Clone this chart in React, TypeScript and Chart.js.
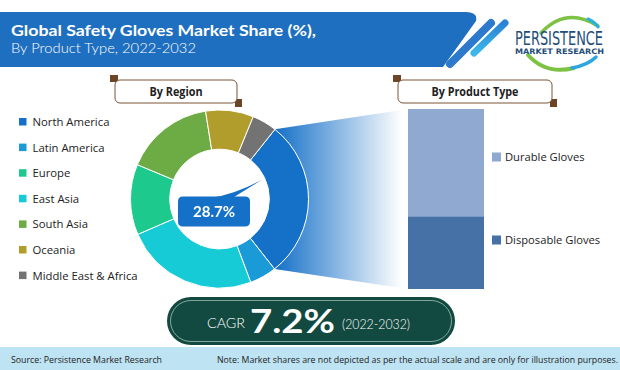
import React, { useEffect, useRef } from "react";
import { Chart, registerables } from "chart.js";

Chart.register(...registerables);

// ---------- data ----------
const titleLine1 = "Global Safety Gloves Market Share (%),";
const titleLine2 = "By Product Type, 2022-2032";
const regions = [
  "North America",
  "Latin America",
  "Europe",
  "East Asia",
  "South Asia",
  "Oceania",
  "Middle East & Africa",
];
const regionShares = [28.7, 4.9, 12.8, 24.2, 16.2, 8.7, 4.5];
const regionColors = ["#1570C8", "#1B9AD8", "#1DC98C", "#16CBD6", "#6DAC45", "#B19D2C", "#737373"];
// clockwise order of the slices in the ring (indexes into regions)
const donutOrder = [0, 1, 3, 2, 4, 5, 6];
const highlightIndex = 0;

const productTypes = ["Durable Gloves", "Disposable Gloves"];
const productShares = [60, 40];
const productColors = ["#8FA9D1", "#4571A7"];

const cagrLabel = "CAGR";
const cagrValue = "7.2%";
const cagrPeriod = "(2022-2032)";
const sourceText = "Source: Persistence Market Research";
const noteText =
  "Note: Market shares are not depicted as per the actual scale and are only for illustration purposes.";

// ---------- plugins ----------
const funnelPlugin = {
  id: "funnel",
  beforeDatasetsDraw(chart: any) {
    const arc = chart.getDatasetMeta(0).data[0];
    if (!arc) return;
    const p = arc.getProps(["x", "y", "startAngle", "endAngle", "outerRadius"], true);
    const ctx = chart.ctx;
    const right = chart.width;
    const ax = p.x + p.outerRadius * Math.cos(p.startAngle);
    const ay = p.y + p.outerRadius * Math.sin(p.startAngle);
    const bx = p.x + p.outerRadius * Math.cos(p.endAngle);
    const by = p.y + p.outerRadius * Math.sin(p.endAngle);
    const grad = ctx.createLinearGradient(ax, 0, right - 6, 0);
    grad.addColorStop(0, "rgb(21,112,200)");
    grad.addColorStop(1, "rgb(255,255,255)");
    ctx.save();
    ctx.beginPath();
    ctx.moveTo(ax, ay);
    ctx.lineTo(right, 0);
    ctx.lineTo(right, chart.height);
    ctx.lineTo(bx, by);
    ctx.arc(p.x, p.y, p.outerRadius, p.endAngle, p.startAngle, true);
    ctx.closePath();
    ctx.fillStyle = grad;
    ctx.fill();
    ctx.restore();
  },
  afterDatasetsDraw(chart: any) {
    const arc = chart.getDatasetMeta(0).data[0];
    if (!arc) return;
    const { x, y } = arc.getProps(["x", "y"], true);
    const ctx = chart.ctx;
    const color = regionColors[highlightIndex];
    ctx.save();
    ctx.fillStyle = color;
    // pointer
    ctx.beginPath();
    ctx.moveTo(x - 10, y - 1);
    ctx.quadraticCurveTo(x + 14, y - 4, x + 42, y - 19);
    ctx.lineTo(x + 13, y - 1);
    ctx.closePath();
    ctx.fill();
    // box
    const bx = x - 41.5;
    const byy = y - 2.5;
    const w = 72;
    const h = 30;
    const r = 5;
    ctx.beginPath();
    ctx.moveTo(bx + r, byy);
    ctx.lineTo(bx + w - r, byy);
    ctx.quadraticCurveTo(bx + w, byy, bx + w, byy + r);
    ctx.lineTo(bx + w, byy + h - r);
    ctx.quadraticCurveTo(bx + w, byy + h, bx + w - r, byy + h);
    ctx.lineTo(bx + r, byy + h);
    ctx.quadraticCurveTo(bx, byy + h, bx, byy + h - r);
    ctx.lineTo(bx, byy + r);
    ctx.quadraticCurveTo(bx, byy, bx + r, byy);
    ctx.closePath();
    ctx.fill();
    ctx.fillStyle = "#ffffff";
    ctx.font = "bold 15px Lato, 'Open Sans', sans-serif";
    ctx.textAlign = "center";
    ctx.textBaseline = "alphabetic";
    ctx.fillText(regionShares[highlightIndex].toFixed(1) + "%", bx + w / 2, y + 18);
    ctx.restore();
  },
};

function DonutChart() {
  const ref = useRef<HTMLCanvasElement | null>(null);
  useEffect(() => {
    if (!ref.current) return;
    const chart = new Chart(ref.current, {
      type: "doughnut",
      data: {
        labels: donutOrder.map((i) => regions[i]),
        datasets: [
          {
            data: donutOrder.map((i) => regionShares[i]),
            backgroundColor: donutOrder.map((i) => regionColors[i]),
            borderColor: "#ffffff",
            borderWidth: 1,
            hoverOffset: 0,
            offset: 0,
          },
        ],
      },
      options: {
        animation: false,
        responsive: false,
        events: [],
        rotation: 38.5,
        cutout: "56%",
        layout: { padding: { left: 0, top: 0, bottom: 0, right: 99 } },
        plugins: { legend: { display: false }, tooltip: { enabled: false } },
      },
      plugins: [funnelPlugin],
    } as any);
    return () => chart.destroy();
  }, []);
  return (
    <canvas
      ref={ref}
      width={278}
      height={180}
      style={{ position: "absolute", left: 130, top: 109, width: 278, height: 180 }}
    />
  );
}

function BarChart() {
  const ref = useRef<HTMLCanvasElement | null>(null);
  useEffect(() => {
    if (!ref.current) return;
    const chart = new Chart(ref.current, {
      type: "bar",
      data: {
        labels: [""],
        datasets: [
          {
            label: productTypes[1],
            data: [productShares[1]],
            backgroundColor: productColors[1],
            borderWidth: 0,
            categoryPercentage: 1,
            barPercentage: 1,
          },
          {
            label: productTypes[0],
            data: [productShares[0]],
            backgroundColor: productColors[0],
            borderWidth: 0,
            categoryPercentage: 1,
            barPercentage: 1,
          },
        ],
      },
      options: {
        animation: false,
        responsive: false,
        events: [],
        layout: { padding: 0 },
        scales: {
          x: { stacked: true, display: false },
          y: { stacked: true, display: false, min: 0, max: 100 },
        },
        plugins: { legend: { display: false }, tooltip: { enabled: false } },
      },
    } as any);
    return () => chart.destroy();
  }, []);
  return (
    <canvas
      ref={ref}
      width={76}
      height={180}
      style={{ position: "absolute", left: 408, top: 109, width: 76, height: 180 }}
    />
  );
}

function SectionBox({ x, w, label, textLen }: { x: number; w: number; label: string; textLen: number }) {
  return (
    <g>
      <rect x={x - 5} y={75} width={8} height={7} fill="#6B4526" />
      <rect x={x + w - 2} y={99} width={7} height={8} fill="#6B4526" />
      <rect x={x} y={80} width={w} height={23} rx={5} fill="#ffffff" stroke="#7A5535" strokeWidth={1} />
      <text
        x={x + w / 2}
        y={96}
        textAnchor="middle"
        fontFamily="'Open Sans', sans-serif"
        fontWeight="bold"
        fontSize={11.5}
        fill="#222"
        textLength={textLen}
        lengthAdjust="spacingAndGlyphs"
      >
        {label}
      </text>
    </g>
  );
}

export default function App() {
  const legendStart = 122;
  const legendStep = 25.6;
  const productLegendY = [157, 240];
  return (
    <div style={{ position: "absolute", left: 0, top: 0, width: 620, height: 370, overflow: "hidden", background: "#fff" }}>
      <svg width={620} height={370} style={{ position: "absolute", left: 0, top: 0 }}>
        <defs>
          <linearGradient id="stripe2" x1="0" y1="1" x2="0" y2="0">
            <stop offset="0" stopColor="#3CB8EA" />
            <stop offset="1" stopColor="#2A82D4" />
          </linearGradient>
        </defs>
        {/* header banner */}
        <path d="M0,12 H466 Q478,12 476,21 L443,67 H0 Z" fill="#1F6FC0" />
        <line x1={450} y1={64} x2={491} y2={23} stroke="#2D79CB" strokeWidth={8} strokeLinecap="round" />
        <line x1={474} y1={53} x2={505} y2={23} stroke="url(#stripe2)" strokeWidth={7} strokeLinecap="round" />
        <text x={11} y={36} fontFamily="Lato, sans-serif" fontWeight="bold" fontSize={15.5} fill="#fff" textLength={305} lengthAdjust="spacingAndGlyphs">
          {titleLine1}
        </text>
        <text x={11} y={53} fontFamily="Lato, sans-serif" fontWeight={300} fontSize={14} fill="#fff" textLength={185} lengthAdjust="spacingAndGlyphs">
          {titleLine2}
        </text>
        {/* logo */}
        <path d="M541,33 Q566,6 598,26" fill="none" stroke="#7DC242" strokeWidth={3.5} strokeLinecap="round" />
        <path d="M588,19 Q595,22 598,27" fill="none" stroke="#2BB0E4" strokeWidth={3} strokeLinecap="round" />
        <path d="M528,55 Q546,75 574,68" fill="none" stroke="#7DC242" strokeWidth={4} strokeLinecap="round" />
        <path d="M572,68 Q588,65 596,57" fill="none" stroke="#2BA6DE" strokeWidth={3.5} strokeLinecap="round" />
        <text x={515} y={45} fontFamily="'DejaVu Sans', sans-serif" fontStretch="condensed" fontSize={20} fill="#1F4E79" textLength={88} lengthAdjust="spacingAndGlyphs">
          PERSISTENCE
        </text>
        <text x={515} y={53.5} fontFamily="'DejaVu Sans', sans-serif" fontWeight="bold" fontSize={7.5} fill="#1F4E79" textLength={89} lengthAdjust="spacingAndGlyphs">
          MARKET RESEARCH
        </text>
        {/* section boxes */}
        <SectionBox x={115} w={122} label="By Region" textLen={53} />
        <SectionBox x={398} w={154} label="By Product Type" textLen={87} />
        {/* region legend */}
        {regions.map((r, i) => {
          const cy = legendStart + i * legendStep;
          return (
            <g key={r}>
              <rect x={19} y={cy - 4} width={7.5} height={7.5} fill={regionColors[i]} />
              <text x={32.5} y={cy + 4} fontFamily="'Open Sans', sans-serif" fontSize={11.3} fill="#222">
                {r}
              </text>
            </g>
          );
        })}
        {/* product legend */}
        {productTypes.map((p, i) => {
          const cy = productLegendY[i];
          return (
            <g key={p}>
              <rect x={492} y={cy - 4.5} width={9} height={9} fill={productColors[i]} />
              <text x={505} y={cy + 4} fontFamily="'Open Sans', sans-serif" fontSize={11.2} fill="#222">
                {p}
              </text>
            </g>
          );
        })}
        {/* CAGR pill */}
        <rect x={167} y={297} width={288} height={48} rx={24} fill="#124A41" />
        <rect x={170.5} y={300.5} width={281} height={41} rx={20.5} fill="none" stroke="#9DBFB4" strokeWidth={0.8} />
        <text x={207} y={328} fontFamily="Lato, sans-serif" fontWeight={300} fontSize={13.5} fill="#fff" textLength={38} lengthAdjust="spacingAndGlyphs">
          {cagrLabel}
        </text>
        <text x={250} y={333} fontFamily="Lato, sans-serif" fontWeight="bold" fontSize={32} fill="#fff" textLength={85} lengthAdjust="spacingAndGlyphs">
          {cagrValue}
        </text>
        <text x={342} y={329} fontFamily="Lato, sans-serif" fontWeight={300} fontSize={13} fill="#fff" textLength={68} lengthAdjust="spacingAndGlyphs">
          {cagrPeriod}
        </text>
        {/* footer */}
        <rect x={0} y={347} width={620} height={23} fill="#BEE3F3" />
        <text x={11} y={363} fontFamily="'Open Sans', sans-serif" fontSize={9.5} fill="#222" textLength={151} lengthAdjust="spacingAndGlyphs">
          {sourceText}
        </text>
        <text x={217} y={363} fontFamily="'Open Sans', sans-serif" fontSize={9.5} fill="#222" textLength={401} lengthAdjust="spacingAndGlyphs">
          {noteText}
        </text>
      </svg>
      <DonutChart />
      <BarChart />
    </div>
  );
}
